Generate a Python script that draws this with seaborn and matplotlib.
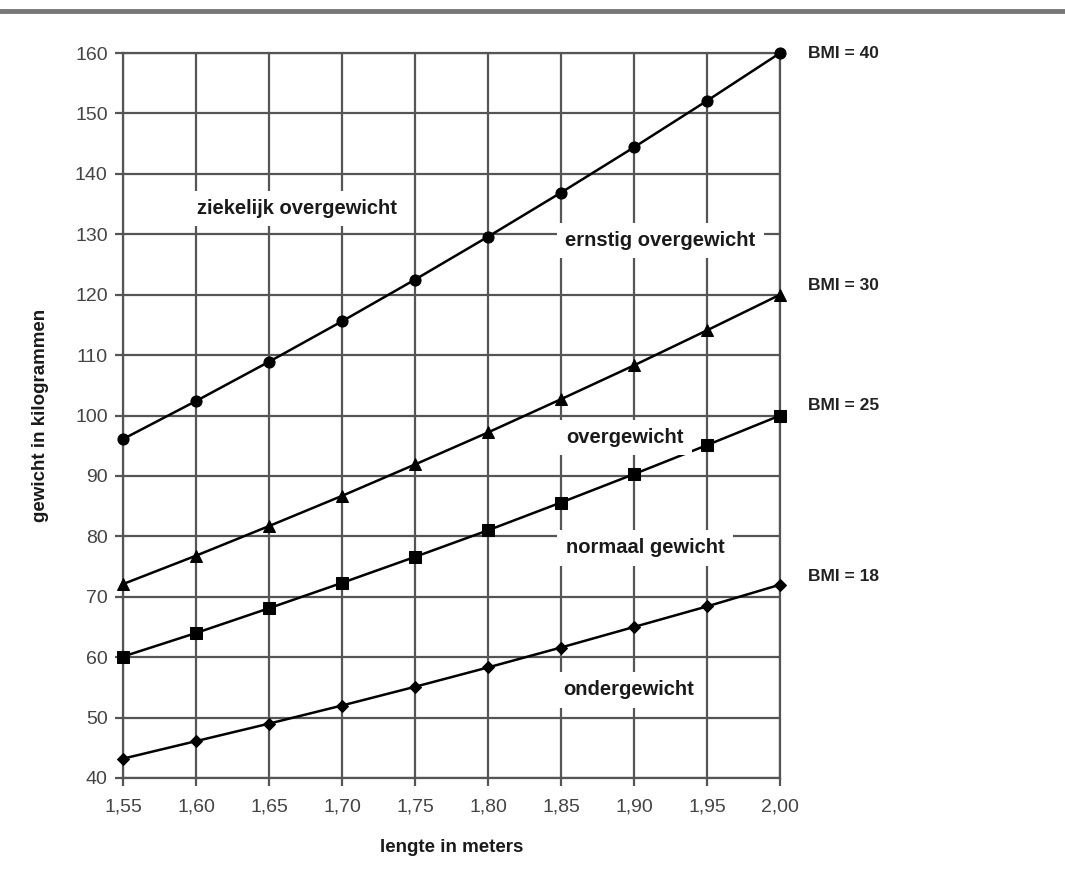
import numpy as np
import pandas as pd
import matplotlib
matplotlib.use('Agg')
import matplotlib.pyplot as plt
import seaborn as sns
from matplotlib.lines import Line2D

# lengths (m) and weights (kg)
lengte = [1.55, 1.60, 1.65, 1.70, 1.75, 1.80, 1.85, 1.90, 1.95, 2.00]
bmi40 = [96.1, 102.4, 108.9, 115.6, 122.5, 129.6, 136.9, 144.4, 152.1, 160.0]
bmi30 = [72.1, 76.8, 81.7, 86.7, 91.9, 97.2, 102.7, 108.3, 114.1, 120.0]
bmi25 = [60.1, 64.0, 68.1, 72.3, 76.6, 81.0, 85.6, 90.3, 95.1, 100.0]
bmi18 = [43.2, 46.1, 49.0, 52.0, 55.1, 58.3, 61.6, 65.0, 68.4, 72.0]
series_names = ['BMI = 40', 'BMI = 30', 'BMI = 25', 'BMI = 18']
x_labels = ['1,55', '1,60', '1,65', '1,70', '1,75', '1,80', '1,85', '1,90', '1,95', '2,00']
y_ticks = [40, 50, 60, 70, 80, 90, 100, 110, 120, 130, 140, 150, 160]

region_labels = ['ziekelijk overgewicht', 'ernstig overgewicht', 'overgewicht',
                 'normaal gewicht', 'ondergewicht']
region_x = [1.669, 1.918, 1.894, 1.9075, 1.896]
region_y = [134.3, 129.0, 96.4, 78.1, 54.6]

sns.set_style('white')
plt.rcParams['font.family'] = ['Liberation Sans', 'DejaVu Sans']

df = pd.DataFrame({
    'lengte': lengte * 4,
    'gewicht': bmi40 + bmi30 + bmi25 + bmi18,
    'bmi': [n for n in series_names for _ in lengte],
})

fig = plt.figure(figsize=(10.65, 8.96), dpi=100)
ax = fig.add_axes([0.1155, 0.1317, 0.6169, 0.8091])

# marker style per line, and small vertical nudge for the BMI labels
markers = {'BMI = 40': ('o', 8), 'BMI = 30': ('^', 9),
           'BMI = 25': ('s', 9), 'BMI = 18': ('D', 6.5)}
label_nudge = {'BMI = 40': 0.0, 'BMI = 30': 1.6, 'BMI = 25': 1.7, 'BMI = 18': 1.3}
for name in series_names:
    sub = df[df['bmi'] == name]
    m, ms = markers[name]
    sns.lineplot(data=sub, x='lengte', y='gewicht', ax=ax, color='black',
                 marker=m, markersize=ms, markeredgecolor='black',
                 linewidth=1.8, legend=False, zorder=3, clip_on=False)
    last = sub['gewicht'].iloc[-1]
    ax.text(2.019, last + label_nudge[name], name, fontsize=12.5,
            fontweight='bold', color='#222222', va='center', ha='left',
            clip_on=False)

ax.set_xlim(1.55, 2.00)
ax.set_ylim(40, 160)
ax.set_xticks(lengte)
ax.set_xticklabels(x_labels)
ax.set_yticks(y_ticks)

ax.grid(True, color='#555555', linewidth=1.6)
ax.set_axisbelow(True)
for s in ax.spines.values():
    s.set_color('#555555')
    s.set_linewidth(1.6)
ax.tick_params(axis='both', direction='out', length=6, width=1.6,
               color='#555555', labelsize=14, labelcolor='#444444',
               left=True, bottom=True)
ax.tick_params(axis='x', pad=9)
ax.tick_params(axis='y', pad=5)

for lab, x, y in zip(region_labels, region_x, region_y):
    ax.text(x, y, lab, fontsize=14.5, fontweight='bold', color='#1a1a1a',
            ha='center', va='center', zorder=5,
            bbox=dict(facecolor='white', edgecolor='none', pad=6))

ax.set_xlabel('lengte in meters', fontsize=13.5, fontweight='bold',
              color='#1a1a1a', labelpad=17)
ax.set_ylabel('gewicht in kilogrammen', fontsize=13.5, fontweight='bold',
              color='#1a1a1a', labelpad=19)

# grey rule across the top of the page
fig.add_artist(Line2D([0, 1], [0.988, 0.988], transform=fig.transFigure,
                      color='#777777', linewidth=3.5))

fig.savefig('out.png', dpi=100)
